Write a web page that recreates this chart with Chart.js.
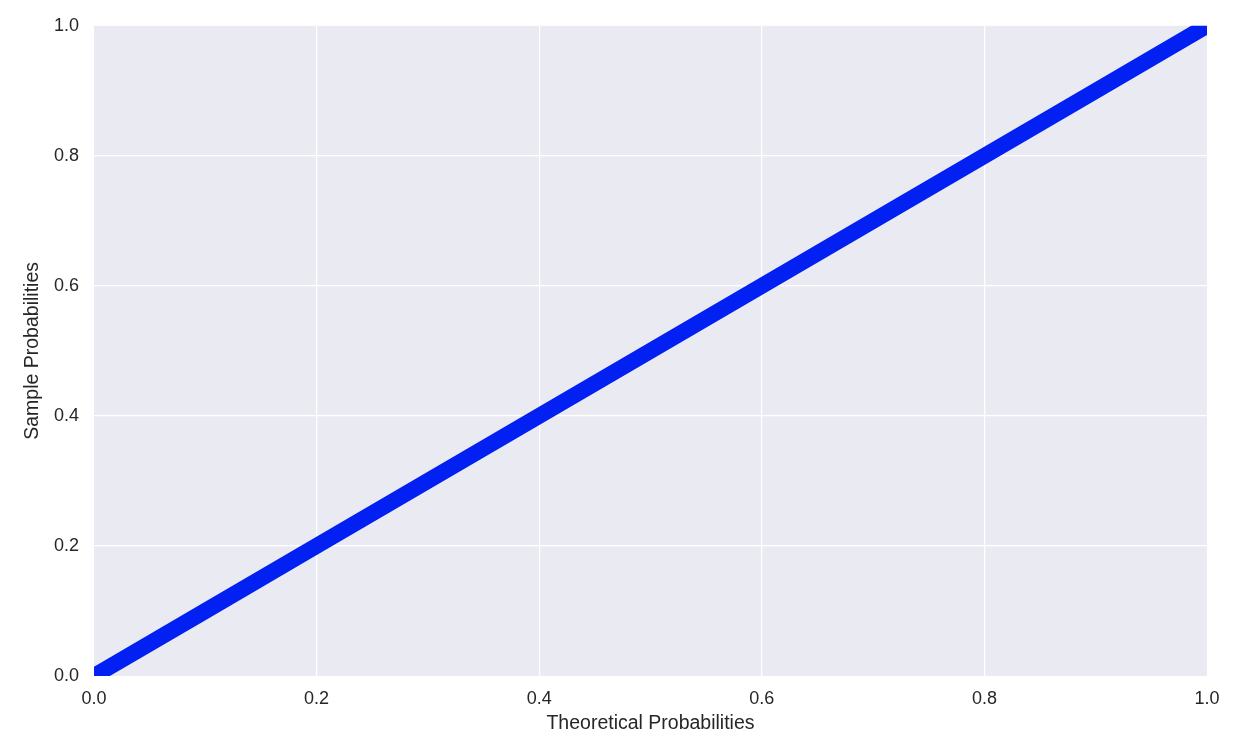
<!DOCTYPE html>
<html>
<head>
<meta charset="utf-8">
<script src="https://cdn.jsdelivr.net/npm/chart.js@4"></script>
<style>
html,body{margin:0;padding:0;background:#fff;}
#wrap{width:1236px;height:750px;}
</style>
</head>
<body>
<div id="wrap"><canvas id="c" width="1236" height="750"></canvas></div>
<script>
const theoreticalProbabilities = [0.0, 0.1, 0.2, 0.3, 0.4, 0.5, 0.6, 0.7, 0.8, 0.9, 1.0];
const sampleProbabilities      = [0.0, 0.1, 0.2, 0.3, 0.4, 0.5, 0.6, 0.7, 0.8, 0.9, 1.0];
const xTickValues = [0.0, 0.2, 0.4, 0.6, 0.8, 1.0];
const yTickValues = [0.0, 0.2, 0.4, 0.6, 0.8, 1.0];
const xTitle = 'Theoretical Probabilities';
const yTitle = 'Sample Probabilities';

const points = theoreticalProbabilities.map((x, i) => ({x: x, y: sampleProbabilities[i]}));

const bgPlugin = {
  id: 'plotBg',
  beforeDraw(chart) {
    const {ctx, chartArea: a} = chart;
    ctx.save();
    ctx.fillStyle = '#eaeaf2';
    ctx.fillRect(a.left, a.top, a.right - a.left, a.bottom - a.top);
    ctx.restore();
  }
};

const tickFont = {family: "'Liberation Sans', Arial, sans-serif", size: 18};
const titleFont = {family: "'Liberation Sans', Arial, sans-serif", size: 19.5};
const gridColor = ctx => (ctx.tick && (ctx.tick.value === 0 || ctx.tick.value === 1)) ? 'rgba(0,0,0,0)' : '#ffffff';

new Chart(document.getElementById('c'), {
  type: 'scatter',
  data: {
    datasets: [{
      data: points,
      showLine: true,
      clip: 0,
      borderColor: '#0320f2',
      backgroundColor: '#0320f2',
      borderWidth: 16,
      borderCapStyle: 'butt',
      pointRadius: 0,
      tension: 0
    }]
  },
  options: {
    responsive: false,
    animation: false,
    layout: {padding: {left: 0, right: 29, top: 24, bottom: 0}},
    plugins: {legend: {display: false}, tooltip: {enabled: false}},
    scales: {
      x: {
        type: 'linear', min: 0, max: 1,
        afterBuildTicks(s) { s.ticks = xTickValues.map(v => ({value: v})); },
        afterFit(s) { s.height = 74; },
        grid: {color: gridColor, lineWidth: 1.2, drawTicks: false},
        border: {display: false},
        ticks: {color: '#262626', font: tickFont, padding: 12, maxRotation: 0,
                callback: v => Number(v).toFixed(1)},
        title: {display: true, text: xTitle, color: '#262626', font: titleFont, padding: {top: 0, bottom: 15}}
      },
      y: {
        type: 'linear', min: 0, max: 1,
        afterBuildTicks(s) { s.ticks = yTickValues.map(v => ({value: v})); },
        afterFit(s) { s.width = 94; },
        grid: {color: gridColor, lineWidth: 1.2, drawTicks: false},
        border: {display: false},
        ticks: {color: '#262626', font: tickFont, padding: 15,
                callback: v => Number(v).toFixed(1)},
        title: {display: true, text: yTitle, color: '#262626', font: titleFont, padding: {top: 21, bottom: 0}}
      }
    }
  },
  plugins: [bgPlugin]
});
</script>
</body>
</html>
